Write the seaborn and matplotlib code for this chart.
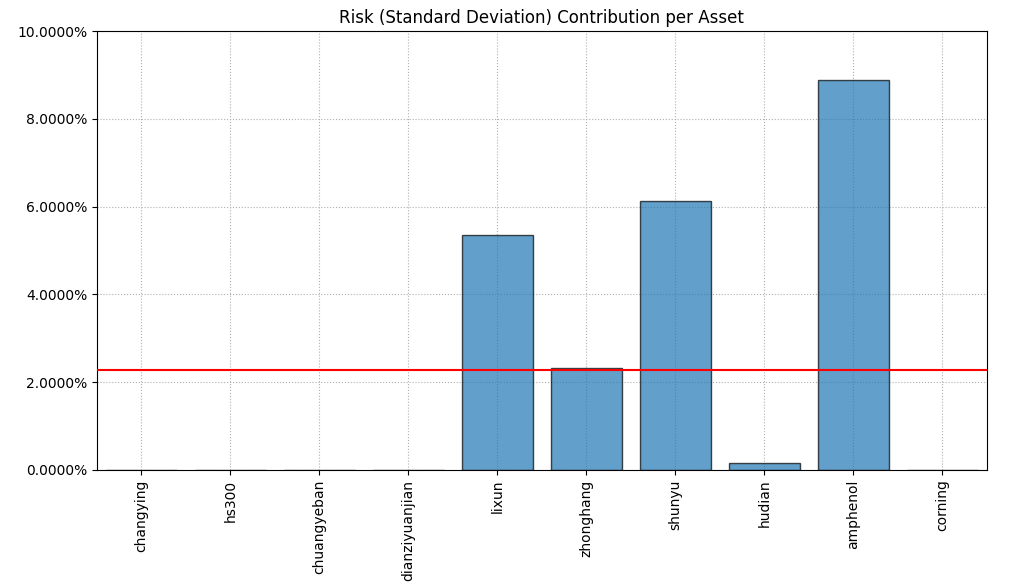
import matplotlib
matplotlib.use("Agg")
import matplotlib.pyplot as plt
import seaborn as sns
import numpy as np
import pandas as pd
from matplotlib.ticker import FuncFormatter

assets = ["changying", "hs300", "chuangyeban", "dianziyuanjian", "lixun",
          "zhonghang", "shunyu", "hudian", "amphenol", "corning"]
risk_contrib = [0.0, 0.0, 0.0, 0.0, 0.0535, 0.0232, 0.0613, 0.0016, 0.0888, 0.0]

df = pd.DataFrame({"asset": assets, "rc": risk_contrib})

fig, ax = plt.subplots(figsize=(10.1, 5.88), dpi=100)
fig.subplots_adjust(left=0.096, right=0.977, top=0.947, bottom=0.201)

sns.barplot(data=df, x="asset", y="rc", color="#1f77b4", saturation=1,
            alpha=0.7, edgecolor="black", linewidth=1.0, width=0.8, ax=ax, zorder=2)
ax.axhline(np.mean(risk_contrib), color="red", linewidth=1.5, zorder=3)

ax.set_ylim(0, 0.10)
ax.set_xlim(-0.5, len(assets) - 0.5)
ax.yaxis.set_major_formatter(FuncFormatter(lambda v, p: "{:.4%}".format(v)))
ax.set_xlabel("")
ax.set_ylabel("")
ax.tick_params(axis="x", rotation=90)
ax.grid(True, linestyle=":", color="#b0b0b0", zorder=0)
ax.set_axisbelow(True)
ax.set_title("Risk (Standard Deviation) Contribution per Asset")

fig.savefig("out.png", dpi=100)
